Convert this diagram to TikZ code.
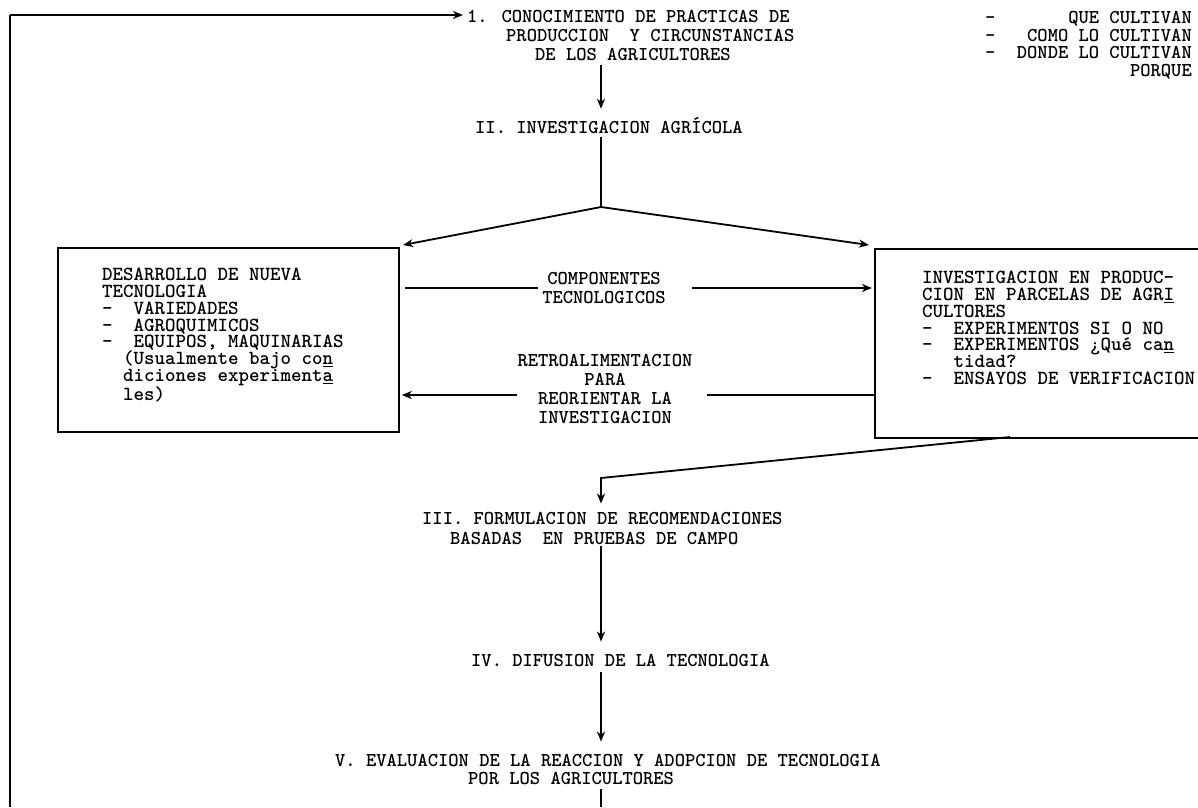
\documentclass[tikz,border=0pt]{standalone}
\usetikzlibrary{arrows.meta}
\begin{document}
\begin{tikzpicture}[x=1pt,y=-1pt,
  txt/.style={font=\fontsize{19.6}{17}\selectfont\ttfamily\bfseries, inner sep=0pt, anchor=base west},
  blk/.style={font=\fontsize{20}{16.8}\selectfont\ttfamily\bfseries, inner sep=0pt, anchor=north west, align=left},
  lbl/.style={font=\fontsize{19.6}{19}\selectfont\ttfamily\bfseries, inner sep=0pt, align=center},
  ln/.style={line width=1.8pt},
  arr/.style={ln,-{Stealth[length=10pt,width=8pt,inset=3pt]}},
  frame/.style={draw,line width=1.8pt,inner sep=0pt,anchor=north west}]
\useasboundingbox (0,0) rectangle (1198,807);

% main axis of the flow chart
\coordinate (c) at (601,0);

% stage I
\node[txt] (i1) at (467,22) {1. CONOCIMIENTO DE PRACTICAS DE};
\node[txt] (i2) at (506,41) {PRODUCCION\ \ Y CIRCUNSTANCIAS};
\node[txt] (i3) at (535,60) {DE LOS AGRICULTORES};

% questions list, top right
\node[txt] (q1d) at (985,23) {-};
\node[txt] (q2d) at (985,41) {-};
\node[txt] (q3d) at (985,58) {-};
\node[txt,anchor=base east] (q1) at (1192,23) {QUE CULTIVAN};
\node[txt,anchor=base east] (q2) at (1192,41) {COMO LO CULTIVAN};
\node[txt,anchor=base east] (q3) at (1192,58) {DONDE LO CULTIVAN};
\node[txt,anchor=base east] (q4) at (1192,76) {PORQUE};

% stage II
\node[txt] (ii) at (475,133) {II. INVESTIGACION AGR\'ICOLA};

% the two research boxes
\node[frame,minimum width=341pt,minimum height=184pt] (L) at (57,247) {};
\node[blk] (Lt) at (102,268) {DESARROLLO DE NUEVA\\
TECNOLOGIA\\
-\ \ VARIEDADES\\
-\ \ AGROQUIMICOS\\
-\ \ EQUIPOS, MAQUINARIAS\\
\mbox{}\ \ (Usualmente bajo co\underline{n}\\
\mbox{}\ \ diciones experiment\underline{a}\\
\mbox{}\ \ les)};

\node[frame,minimum width=360pt,minimum height=189pt] (R) at (874,248) {};
\node[blk] (Rt) at (922,271) {INVESTIGACION EN PRODUC-\\
CION EN PARCELAS DE AGR\underline{I}\\
CULTORES\\
-\ \ EXPERIMENTOS SI O NO\\
-\ \ EXPERIMENTOS ¿Qué ca\underline{n}\\
\mbox{}\ \ \ tidad?\\
-\ \ ENSAYOS DE VERIFICACION};

% labels between the boxes
\node[lbl] (comp) at (604,288) {COMPONENTES\\TECNOLOGICOS};
\node[lbl] (fb) at (605,389) {RETROALIMENTACION\\PARA\\REORIENTAR LA\\INVESTIGACION};

% stages III to V
\node[txt] (iii1) at (422,524) {III. FORMULACION DE RECOMENDACIONES};
\node[txt] (iii2) at (450,544) {BASADAS\ \ EN PRUEBAS DE CAMPO};
\node[txt] (iv) at (471,666) {IV. DIFUSION DE LA TECNOLOGIA};
\node[txt] (v1) at (335,766) {V. EVALUACION DE LA REACCION Y ADOPCION DE TECNOLOGIA};
\node[txt] (v2) at (468,784) {POR LOS AGRICULTORES};

% helper points
\coordinate (lt) at (10,15);
\coordinate (lb) at (10,807);
\coordinate (bot) at (601,807);
\coordinate (j) at (601,207);
\coordinate (jl) at (403,245);
\coordinate (jr) at (869,245);
\coordinate (fy) at (0,395);
\coordinate (d0) at (1010,437);
\coordinate (d1) at (601,478);

% feedback loop back to stage I
\draw[ln] (lb) -- (lt);
\draw[arr,shorten >=4pt] (lt) -- (lt -| i1.west);

% I -> II -> split
\draw[arr,shorten <=5pt,shorten >=8pt] (i3.south -| c) -- (ii.north -| c);
\draw[ln,shorten <=4pt] (ii.south -| c) -- (j);
\draw[arr] (j) -- (jl);
\draw[arr] (j) -- (jr);

% components and feedback arrows
\draw[ln,shorten <=5pt,shorten >=4pt] (L.east |- comp) -- (comp.west);
\draw[arr,shorten <=26pt,shorten >=2pt] (comp.east) -- (R.west |- comp);
\draw[ln,shorten >=14pt] (R.west |- fy) -- (fb.east |- fy);
\draw[arr,shorten >=2pt] (fb.west |- fy) -- (L.east |- fy);

% downstream flow
\draw[arr,shorten >=8pt] (d0) -- (d1) -- (iii1.north -| d1);
\draw[arr,shorten <=2pt,shorten >=12pt] (iii2.south -| c) -- (iv.north -| c);
\draw[arr,shorten <=6pt,shorten >=12pt] (iv.south -| c) -- (v1.north -| c);
\draw[ln,shorten <=5pt] (v2.south -| c) -- (bot);
\end{tikzpicture}
\end{document}
